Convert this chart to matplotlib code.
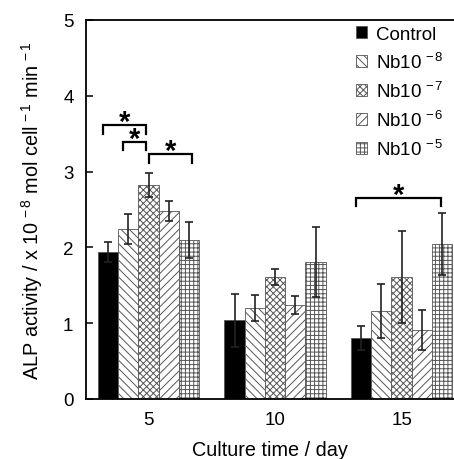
import numpy as np
import matplotlib.pyplot as plt

plt.rcParams['font.family'] = ['Liberation Sans', 'DejaVu Sans']
plt.rcParams['mathtext.fontset'] = 'custom'
plt.rcParams['mathtext.rm'] = 'Liberation Sans'
plt.rcParams['mathtext.it'] = 'Liberation Sans'
plt.rcParams['mathtext.bf'] = 'Liberation Sans:bold'
plt.rcParams['hatch.linewidth'] = 0.7
plt.rcParams['hatch.color'] = 'black'

# data
days = [5, 10, 15]
labels = ['Control', r'Nb10$^{\,-8}$', r'Nb10$^{\,-7}$', r'Nb10$^{\,-6}$', r'Nb10$^{\,-5}$']
control = [1.94, 1.04, 0.80]
control_err = [0.13, 0.35, 0.16]
nb8 = [2.24, 1.20, 1.16]
nb8_err = [0.20, 0.17, 0.36]
nb7 = [2.82, 1.61, 1.61]
nb7_err = [0.16, 0.10, 0.61]
nb6 = [2.48, 1.24, 0.91]
nb6_err = [0.13, 0.12, 0.26]
nb5 = [2.10, 1.81, 2.04]
nb5_err = [0.24, 0.46, 0.41]

# significance brackets (x from, x to, height)
sig_x1 = [3.22, 4.01, 5.03, 13.20]
sig_x2 = [4.90, 4.90, 6.72, 16.54]
sig_y = [3.61, 3.39, 3.23, 2.65]

values = [control, nb8, nb7, nb6, nb5]
errors = [control_err, nb8_err, nb7_err, nb6_err, nb5_err]
hatches = [None, '\\\\\\\\', 'xxxxx', '////', '++++']
colors = ['black', 'white', 'white', 'white', 'white']

fig = plt.figure(figsize=(4.54, 4.60), dpi=100)
ax = fig.add_axes([86 / 454, 60 / 460, 1 - 86 / 454, 379 / 460])

width = 0.80
x = np.array(days, dtype=float)
for i in range(5):
    pos = x + (i - 2) * width
    ax.bar(pos, values[i], width, color=colors[i], edgecolor='#555555',
           linewidth=0.6, hatch=hatches[i], label=labels[i], zorder=2)
    ax.errorbar(pos, values[i], yerr=errors[i], fmt='none', ecolor='#222222',
                elinewidth=1.2, capsize=3, capthick=1.2, zorder=3)

drop = 0.11
for x1, x2, y in zip(sig_x1, sig_x2, sig_y):
    ax.plot([x1, x1, x2, x2], [y - drop, y, y, y - drop], color='black', lw=1.6,
            solid_joinstyle='miter', clip_on=False)
    ax.text((x1 + x2) / 2, y - 0.06, '*', ha='center', va='baseline',
            fontsize=21, fontweight='bold')

ax.set_xlim(2.53, 17.07)
ax.set_ylim(0, 5)
ax.set_xticks(days)
ax.set_yticks([0, 1, 2, 3, 4, 5])
ax.tick_params(axis='x', length=0, labelsize=13.5, pad=9)
ax.tick_params(axis='y', direction='in', length=5, width=1.1, labelsize=13.5, pad=9)
ax.spines['right'].set_visible(False)
for s in ['left', 'bottom', 'top']:
    ax.spines[s].set_linewidth(1.3)

ax.set_xlabel('Culture time / day', fontsize=14.3, labelpad=8)
ax.set_ylabel(r'ALP activity / x 10$^{\,-8}$ mol cell$^{\,-1}$ min$^{\,-1}$', fontsize=14.3, labelpad=13)

ax.legend(loc='upper left', bbox_to_anchor=(356 / 454, 1 - 27 / 460),
          bbox_transform=fig.transFigure, frameon=False, fontsize=13.5,
          handlelength=0.6, handleheight=0.6, handletextpad=0.45,
          labelspacing=0.47, borderpad=0, borderaxespad=0)

plt.savefig('out.png', dpi=100)
